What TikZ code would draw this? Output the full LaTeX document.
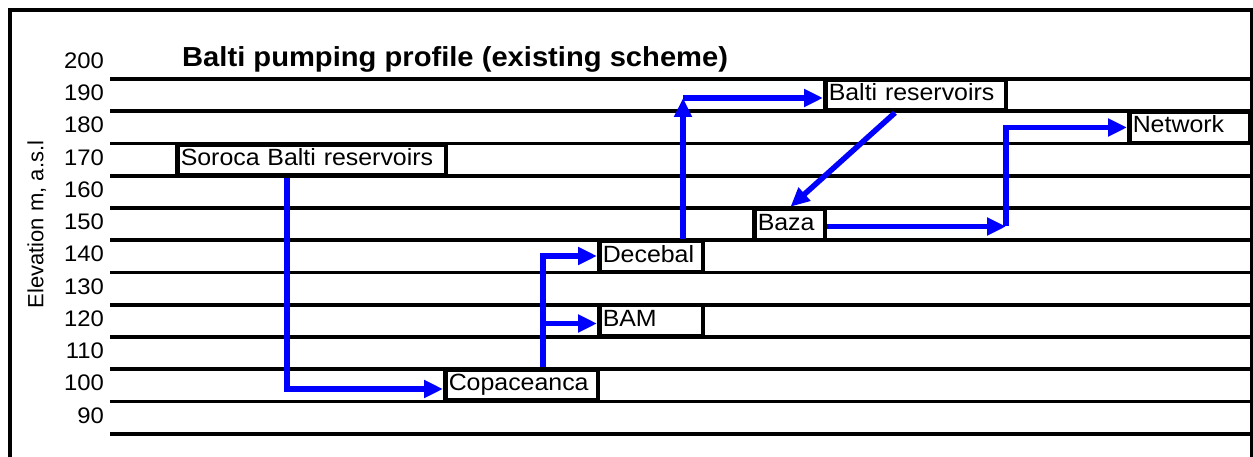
\documentclass[tikz,border=0pt]{standalone}
\usepackage{fontspec}
\setmainfont[FakeStretch=1.06]{Liberation Sans}
\newfontfamily\axisfont{Liberation Sans}
\usetikzlibrary{arrows.meta}
\definecolor{flowblue}{RGB}{0,0,255}
\begin{document}
\begin{tikzpicture}[x=1pt,y=-1pt,
  gridline/.style={line width=3.6pt, black},
  stn/.style={draw=black, line width=4.5pt, fill=white, minimum height=31pt,
    inner ysep=0pt, inner xsep=3.5pt, text height=17pt, text depth=6pt,
    align=left, font=\fontsize{23.5}{27}\selectfont, anchor=center},
  num/.style={anchor=base east, font=\fontsize{22.5}{26}\selectfont, inner sep=0pt},
  flow/.style={draw=flowblue, line width=5.5pt, -{Triangle[length=19pt,width=17pt]}}]
\useasboundingbox (0,0) rectangle (1253,457);
\fill[white] (0,0) rectangle (1253,457);
% frame
\draw[line width=3.6pt] (10,10) rectangle (1251.5,475);
% grid lines
\foreach \k in {0,...,11}{
  \draw[gridline] (110,{79+32.25*\k}) -- (1251,{79+32.25*\k});
}
% axis numbers
\foreach \j in {0,...,11}{
  \pgfmathtruncatemacro{\v}{200-10*\j}
  \node[num] (n\v) at (104,{62.9+32.25*\j+5.5}) {\v};
}
% title and axis label
\node[anchor=base west, font=\bfseries\fontsize{27.5}{32}\selectfont, inner sep=0pt] (title) at (182,66.7) {Balti pumping profile (existing scheme)};
\node[rotate=90, anchor=base, font=\axisfont\fontsize{22}{26}\selectfont, inner sep=0pt] (ylab) at (43.3,224.5) {Elevation m, a.s.l};
% stations
\node[stn, text width=261.5pt] (soroca) at (311.5,160) {Soroca Balti reservoirs};
\node[stn, text width=145.5pt] (copa) at (521.5,385) {Copaceanca};
\node[stn, text width=96.5pt] (decebal) at (651,256.5) {Decebal};
\node[stn, text width=96.5pt] (bam) at (651,320.5) {BAM};
\node[stn, text width=63.5pt] (baza) at (789.5,224.5) {Baza};
\node[stn, text width=173.5pt] (balti) at (915.5,95) {Balti reservoirs};
\node[stn, text width=113.5pt] (network) at (1189.5,127.5) {Network};
% flows
\draw[flow] ([xshift=-24.5pt]soroca.south) |- ([yshift=-4pt]copa.west);
\coordinate (j1) at ([xshift=21.5pt]copa.north);
\draw[flow] (j1) |- ([yshift=0.5pt]decebal.west);
\coordinate (bamin) at ([yshift=-3pt]bam.west);
\draw[flow] (j1 |- bamin) -- (bamin);
\coordinate (j2) at ([xshift=32pt]decebal.north);
\coordinate (balin) at ([yshift=-3pt]balti.west);
\draw[flow] (j2) -- (j2 |- balin);
\draw[flow] (j2 |- balin) -- (balin);
\draw[flow] ([xshift=-20.5pt]balti.south) -- ([xshift=1pt]baza.north);
\coordinate (bazout) at ([yshift=-2pt]baza.east);
\coordinate (j3) at ([xshift=179pt]bazout);
\draw[flow] (bazout) -- (j3);
\draw[flow] (j3) |- (network.west);
\end{tikzpicture}
\end{document}
